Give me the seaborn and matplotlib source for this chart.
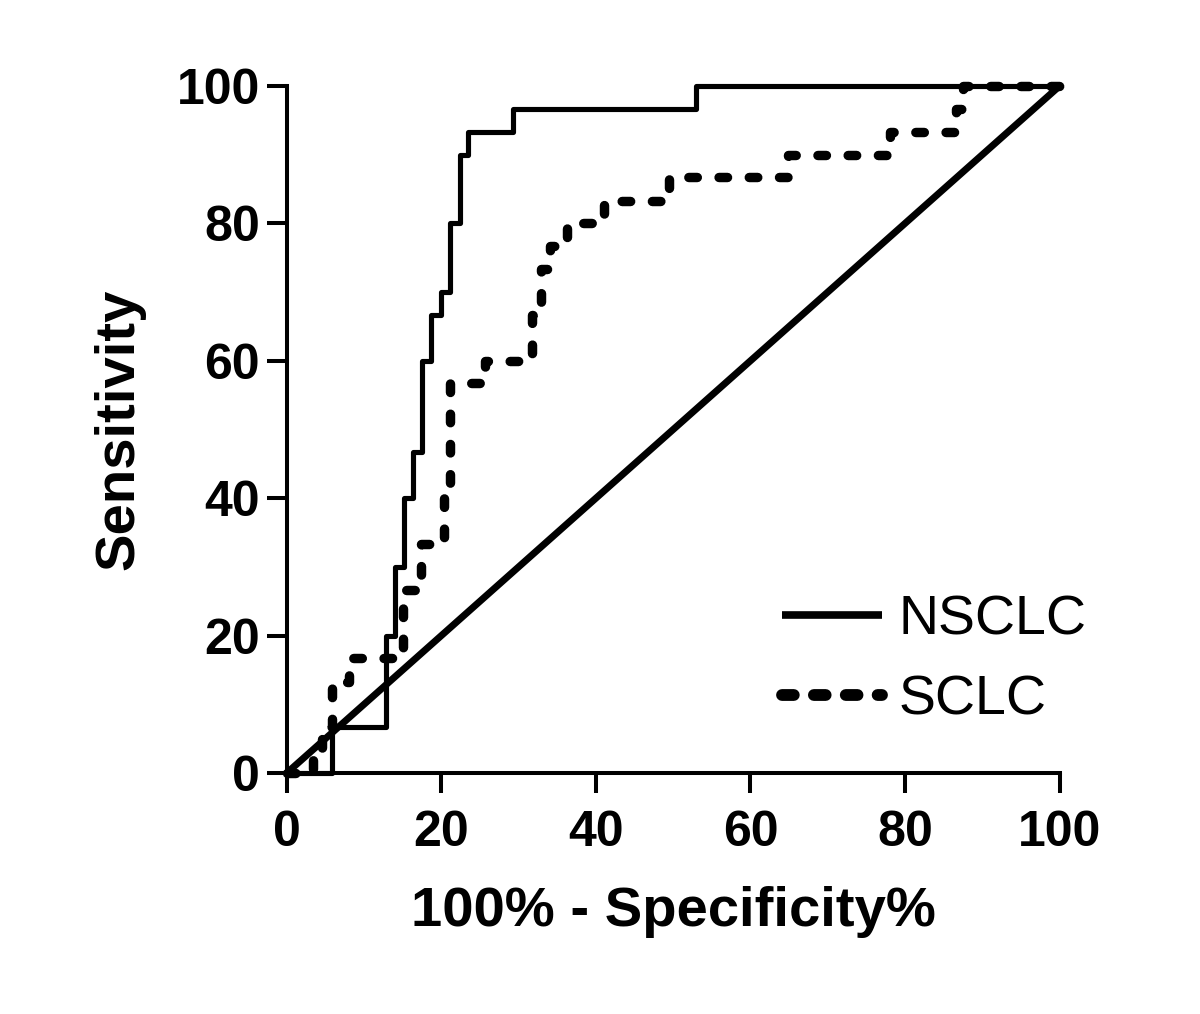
import matplotlib
matplotlib.use("Agg")
import matplotlib.pyplot as plt
import seaborn as sns

# ROC points (100% - specificity, sensitivity)
nsclc_fpr = [0, 5.8, 12.9, 14.0, 15.2, 16.3, 17.5, 18.7, 20.0, 21.1, 22.4, 23.4, 29.3, 53.0, 100]
nsclc_tpr = [0, 6.7, 20.0, 30.0, 40.0, 46.7, 60.0, 66.7, 70.0, 80.0, 90.0, 93.3, 96.7, 100, 100]

sclc_fpr = [0, 3.4, 4.6, 5.8, 8.1, 15.0, 17.4, 20.3, 21.1, 25.6, 31.7, 32.9, 34.0, 36.2,
            41.0, 49.5, 64.8, 78.0, 86.6, 87.5, 100]
sclc_tpr = [0, 3.3, 6.7, 13.3, 16.7, 26.7, 33.3, 40.0, 56.7, 60.0, 66.7, 73.3, 76.7, 80.0,
            83.3, 86.7, 90.0, 93.3, 96.7, 100, 100]

chance = [0, 100]
ticks = [0, 20, 40, 60, 80, 100]

sns.set_style("ticks")
plt.rcParams["font.family"] = ["Liberation Sans", "DejaVu Sans"]
plt.rcParams["text.color"] = "black"
plt.rcParams["axes.labelcolor"] = "black"
plt.rcParams["xtick.color"] = "black"
plt.rcParams["ytick.color"] = "black"

fig = plt.figure(figsize=(12, 10.14), dpi=100)
ax = fig.add_axes([0.239, 0.2377, 0.644, 0.6775])

sns.lineplot(x=chance, y=chance, ax=ax, color="black", linewidth=5.0,
             estimator=None, sort=False, legend=False)
sns.lineplot(x=nsclc_fpr, y=nsclc_tpr, ax=ax, color="black", linewidth=3.7,
             drawstyle="steps-post", estimator=None, sort=False, label="NSCLC")
sns.lineplot(x=sclc_fpr, y=sclc_tpr, ax=ax, color="black", linewidth=6.8,
             drawstyle="steps-post", estimator=None, sort=False, label="SCLC")

for ln in ax.lines:
    ln.set_clip_on(False)
    ln.set_solid_capstyle("butt")
ax.lines[2].set_dashes([0.9, 2.3])
ax.lines[2].set_dash_capstyle("round")

ax.set_xlim(0, 100)
ax.set_ylim(0, 100)
ax.set_xticks(ticks)
ax.set_yticks(ticks)
sns.despine(ax=ax)
for side in ["left", "bottom"]:
    ax.spines[side].set_linewidth(2.9)
    ax.spines[side].set_color("black")
ax.tick_params(axis="both", length=14.5, width=2.9, color="black",
               labelcolor="black", labelsize=36)
ax.tick_params(axis="x", pad=12)
ax.tick_params(axis="y", pad=5)
for lab in ax.get_xticklabels() + ax.get_yticklabels():
    lab.set_fontweight("bold")

ax.set_xlabel("100% - Specificity%", fontsize=40.5, fontweight="bold", labelpad=22)
ax.set_ylabel("Sensitivity", fontsize=40.5, fontweight="bold", labelpad=22)

leg = ax.legend(loc="lower right", bbox_to_anchor=(1.10, -0.005), frameon=False,
                fontsize=40, handlelength=1.8, handletextpad=0.3,
                labelspacing=0.5)
hs = leg.get_lines()
hs[0].set_linewidth(5.5)
hs[1].set_linewidth(8.5)
hs[1].set_dashes([1.0, 1.7])
hs[1].set_dash_capstyle("round")
for t in leg.get_texts():
    t.set_color("black")

fig.savefig("out.png", dpi=100, facecolor="white")
